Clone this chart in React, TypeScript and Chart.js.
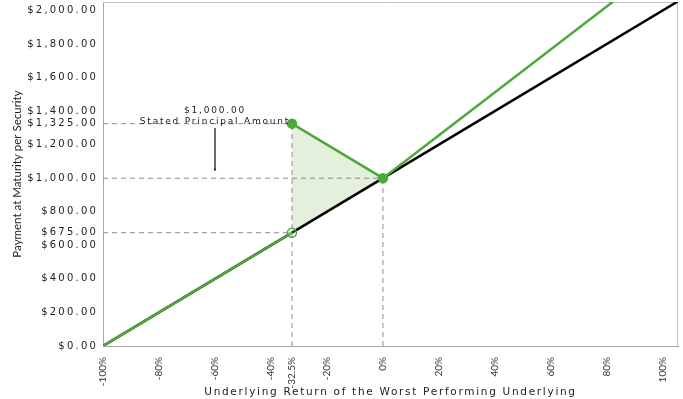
import React, { useEffect, useRef } from 'react';
import { Chart, registerables } from 'chart.js';

Chart.register(...registerables);

// ---- data ----
const xTickValues = [-100, -80, -60, -40, -32.5, -20, 0, 20, 40, 60, 80, 100];
const yTickValues = [0, 200, 400, 600, 675, 800, 1000, 1200, 1325, 1400, 1600, 1800, 2000];

const benchmarkReturns = [-100, 0, 110];
const benchmarkPayments = [0, 1000, 2100];

const downsideReturns = [-100, -32.5];
const downsidePayments = [0, 675];

const upsideReturns = [-32.5, 0, 100];
const upsidePayments = [1325, 1000, 2280];

const markerReturns = [-32.5, 0, -32.5];
const markerPayments = [1325, 1000, 675];
const markerFilled = [true, true, false];

const xMin = -100;
const xMax = 105.4;
const yMin = 0;
const yMax = 2050;

const thresholdReturn = -32.5;
const thresholdLow = 675;
const thresholdHigh = 1325;
const principal = 1000;

const annotationLines = ['$1,000.00', 'Stated Principal Amount'];
const annotationReturn = -60;
const annotationTextPayments = [1405, 1335];
const annotationArrowPayments = [1298, 1052];

const GREEN = 'rgb(78,168,58)';
const FILL = 'rgba(226,238,216,0.9)';
const DASH = '#8c8c8c';

const pts = (xs: number[], ys: number[]) => xs.map((x, i) => ({ x, y: ys[i] }));

const money = (v: number) =>
  '$' + v.toLocaleString('en-US', { minimumFractionDigits: 2, maximumFractionDigits: 2 });

const stylePlugin = {
  id: 'styling',
  beforeDraw(chart: any) {
    const ys = chart.scales.y;
    const xs = chart.scales.x;
    if (ys && !ys.__patched) {
      const orig = ys.drawLabels.bind(ys);
      ys.drawLabels = (a: any) => {
        const c = chart.ctx;
        const prev = c.letterSpacing;
        c.letterSpacing = '2.2px';
        orig(a);
        c.letterSpacing = prev;
      };
      ys.__patched = true;
    }
    if (xs && !xs.__patched) {
      const orig = xs.drawTitle.bind(xs);
      xs.drawTitle = () => {
        const c = chart.ctx;
        const prev = c.letterSpacing;
        c.letterSpacing = '1.7px';
        orig();
        c.letterSpacing = prev;
      };
      xs.__patched = true;
    }
  },
  beforeDatasetsDraw(chart: any) {
    const { ctx, chartArea } = chart;
    ctx.save();
    ctx.strokeStyle = '#c4c4c4';
    ctx.lineWidth = 1;
    ctx.beginPath();
    ctx.moveTo(chartArea.left, chartArea.top + 0.5);
    ctx.lineTo(chartArea.right - 0.5, chartArea.top + 0.5);
    ctx.lineTo(chartArea.right - 0.5, chartArea.bottom);
    ctx.stroke();
    ctx.restore();
  },
  afterDatasetsDraw(chart: any) {
    const { ctx } = chart;
    const x = chart.scales.x.getPixelForValue(annotationReturn);
    ctx.save();
    ctx.font = '9px "DejaVu Sans"';
    ctx.letterSpacing = '1.8px';
    ctx.fillStyle = '#222';
    ctx.textAlign = 'center';
    ctx.textBaseline = 'middle';
    annotationLines.forEach((t, i) => {
      const y = chart.scales.y.getPixelForValue(annotationTextPayments[i]);
      ctx.fillText(t, x, y);
    });
    ctx.restore();
  },
};

export default function App() {
  const ref = useRef<HTMLCanvasElement>(null);

  useEffect(() => {
    if (!ref.current) return;
    const chart = new Chart(ref.current, {
      type: 'scatter',
      data: {
        datasets: [
          {
            label: 'markers',
            data: pts(markerReturns, markerPayments),
            showLine: false,
            pointRadius: 4.5,
            pointBorderWidth: 1.5,
            pointBorderColor: GREEN,
            pointBackgroundColor: markerFilled.map((f) => (f ? GREEN : 'rgba(255,255,255,0.2)')),
            order: 0,
          },
          {
            label: 'upside',
            data: pts(upsideReturns, upsidePayments),
            showLine: true,
            borderColor: GREEN,
            borderWidth: 2.5,
            pointRadius: 0,
            order: 1,
          },
          {
            label: 'downside',
            data: pts(downsideReturns, downsidePayments),
            showLine: true,
            borderColor: GREEN,
            borderWidth: 2.5,
            pointRadius: 0,
            order: 1,
          },
          {
            label: 'benchmark',
            data: pts(benchmarkReturns, benchmarkPayments),
            showLine: true,
            borderColor: '#000',
            borderWidth: 2.5,
            pointRadius: 0,
            order: 2,
          },
          {
            label: 'arrow',
            data: pts([annotationReturn, annotationReturn], annotationArrowPayments),
            showLine: true,
            borderColor: '#555',
            borderWidth: 1,
            pointRadius: [0, 1.2],
            pointBackgroundColor: '#333',
            pointBorderWidth: 0,
            order: 3,
          },
          ...[
            pts([xMin, thresholdReturn], [thresholdHigh, thresholdHigh]),
            pts([xMin, 0], [principal, principal]),
            pts([xMin, thresholdReturn], [thresholdLow, thresholdLow]),
            pts([thresholdReturn, thresholdReturn], [yMin, thresholdHigh]),
            pts([0, 0], [yMin, principal]),
          ].map((d, i) => ({
            label: 'guide' + i,
            data: d,
            showLine: true,
            borderColor: DASH,
            borderWidth: 1,
            borderDash: [5, 4],
            pointRadius: 0,
            order: 4,
          })),
          {
            label: 'fillTop',
            data: pts([thresholdReturn, 0], [thresholdHigh, principal]),
            showLine: true,
            borderWidth: 0,
            borderColor: 'rgba(0,0,0,0)',
            backgroundColor: FILL,
            fill: '+1',
            pointRadius: 0,
            order: 5,
          },
          {
            label: 'fillBottom',
            data: pts([thresholdReturn, 0], [thresholdLow, principal]),
            showLine: true,
            borderWidth: 0,
            borderColor: 'rgba(0,0,0,0)',
            pointRadius: 0,
            order: 5,
          },
        ],
      },
      options: {
        animation: false,
        responsive: true,
        maintainAspectRatio: false,
        layout: { autoPadding: false, padding: { top: 2, right: 5, left: 0, bottom: 0 } },
        plugins: { legend: { display: false }, tooltip: { enabled: false } },
        scales: {
          x: {
            type: 'linear',
            min: xMin,
            max: xMax,
            afterFit: (s: any) => {
              s.height = 53;
              s.paddingLeft = 0;
              s.paddingRight = 0;
            },
            afterBuildTicks: (s: any) => {
              s.ticks = xTickValues.map((v) => ({ value: v }));
            },
            grid: { display: false },
            border: { display: true, color: '#a8a8a8', width: 1 },
            ticks: {
              autoSkip: false,
              minRotation: 90,
              maxRotation: 90,
              padding: 3,
              color: '#333',
              font: { family: 'Lato', size: 10 },
              callback: (v: any) => `${v}%`,
            },
            title: {
              display: true,
              text: 'Underlying Return of the Worst Performing Underlying',
              color: '#222',
              font: { family: 'DejaVu Sans', size: 10.5 },
              padding: { top: 0, bottom: 0 },
            },
          },
          y: {
            type: 'linear',
            min: yMin,
            max: yMax,
            afterFit: (s: any) => {
              s.width = 103;
              s.paddingTop = 0;
              s.paddingBottom = 0;
            },
            afterBuildTicks: (s: any) => {
              s.ticks = yTickValues.map((v) => ({ value: v }));
            },
            grid: { display: false },
            border: { display: true, color: '#a8a8a8', width: 1 },
            ticks: {
              autoSkip: false,
              padding: -3,
              color: '#222',
              font: { family: 'DejaVu Sans', size: 10 },
              callback: (v: any) => money(Number(v)),
            },
            title: {
              display: true,
              text: 'Payment at Maturity per Security',
              color: '#222',
              font: { family: 'Lato', size: 11.5 },
              padding: { top: 10, bottom: 0 },
            },
          },
        },
      },
      plugins: [stylePlugin],
    });
    return () => chart.destroy();
  }, []);

  return (
    <div style={{ position: 'fixed', left: 0, top: 0, width: 683, height: 399, background: '#fff' }}>
      <canvas ref={ref} />
    </div>
  );
}
